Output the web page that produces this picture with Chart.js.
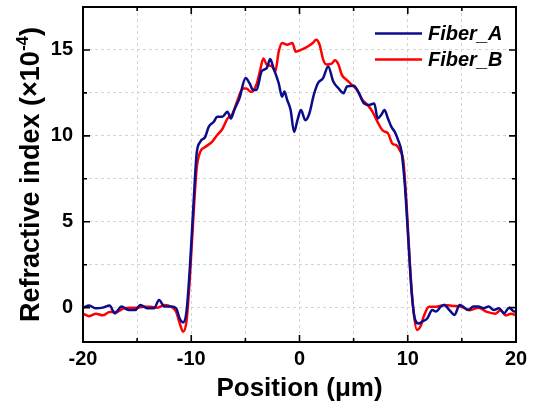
<!DOCTYPE html>
<html>
<head>
<meta charset="utf-8">
<script src="https://cdn.jsdelivr.net/npm/chart.js@4"></script>
<style>
  html, body { margin: 0; padding: 0; background: #fff; }
  #wrap { width: 536px; height: 409px; }
</style>
</head>
<body>
<div id="wrap"><canvas id="c" width="536" height="409"></canvas></div>
<script>
// ---- data ----
const posA = [-20,-19.43,-18.8,-18.17,-17.54,-17.07,-16.44,-15.8,-15.17,-14.7,-14.07,-13.44,-12.97,-12.49,-11.86,-11.39,-11.07,-10.76,-10.44,-10.13,-9.81,-9.5,-9.18,-8.71,-8.39,-7.92,-7.6,-7.13,-6.66,-6.34,-6.03,-5.55,-4.98,-4.61,-4.29,-3.97,-3.5,-3.03,-2.71,-2.4,-1.92,-1.61,-1.39,-1.14,-0.82,-0.5,-0.19,0.13,0.54,0.91,1.32,1.7,2.18,2.65,3.12,3.6,4.07,4.38,5.02,5.49,5.96,6.44,6.91,7.22,7.54,7.85,8.17,8.49,8.8,9.12,9.43,9.75,10.06,10.38,10.69,11.01,11.32,11.8,12.27,12.59,13.06,13.38,13.85,14.32,14.79,15.11,15.58,16.06,16.53,17.0,17.48,17.95,18.42,18.9,19.37,19.84,20];
const valA = [0,0.12,-0.04,0,0.12,-0.33,0.06,-0.14,-0.14,0.16,-0.04,-0.04,0.45,0.06,0.06,-0.04,-0.63,-0.86,-0.23,2.31,5.83,8.96,9.64,9.94,10.52,10.82,11.11,11.11,11.4,11.01,11.5,12.18,13.36,13.06,12.67,12.67,13.75,13.94,14.47,13.94,13.06,12.28,12.58,12.09,11.5,10.23,10.91,11.5,10.91,11.3,12.38,13.06,13.36,14.04,13.16,12.77,12.48,12.87,12.91,12.48,11.89,11.79,11.89,11.01,11.21,11.5,11.01,10.52,10.23,9.74,9.06,7.0,3.87,0.74,-0.72,-0.92,-0.82,-0.63,-0.14,-0.23,0.06,0.16,-0.14,-0.43,0.16,0.06,-0.14,0.06,0.06,-0.04,0.06,-0.14,-0.04,-0.33,0,-0.23,-0.23];

const posB = [-20,-19.43,-18.8,-18.17,-17.54,-16.91,-16.28,-15.65,-15.02,-14.38,-13.75,-13.12,-12.49,-11.86,-11.39,-11.07,-10.76,-10.44,-10.13,-9.81,-9.5,-9.18,-8.71,-8.08,-7.6,-7.13,-6.66,-6.18,-5.71,-5.24,-4.92,-4.45,-3.97,-3.66,-3.34,-3.03,-2.56,-2.24,-1.92,-1.61,-1.14,-0.66,-0.35,0.13,0.76,1.23,1.55,1.86,2.18,2.49,2.97,3.28,3.6,3.91,4.38,4.86,5.33,5.8,6.28,6.75,7.22,7.7,8.17,8.58,8.96,9.27,9.59,9.91,10.22,10.54,10.85,11.17,11.48,11.96,12.59,13.38,14.16,14.95,15.74,16.53,17.32,18.11,18.58,19.05,19.53,20];
const valB = [-0.35,-0.5,-0.35,-0.45,-0.25,-0.25,-0.05,0,0,0.05,0.05,0,0.15,0.05,-0.25,-0.9,-1.4,-0.8,1.7,5.2,8.1,9.05,9.35,9.65,10.05,10.4,11.0,11.3,12.1,12.75,12.75,12.55,13.0,13.75,14.5,14.15,14.05,13.75,14.9,15.4,15.3,15.4,14.9,15.0,15.2,15.4,15.6,15.3,14.45,14.15,14.2,14.4,14.15,13.55,13.25,12.95,12.65,12.1,11.8,11.4,10.8,10.3,10.15,9.55,9.45,9.15,8.55,5.8,2.3,-0.25,-1.3,-1.1,-0.5,0.05,0.05,0.15,0.1,0.05,-0.15,0,-0.25,-0.35,-0.15,-0.45,-0.35,-0.45];

const seriesNames = ['Fiber_A', 'Fiber_B'];
const xMajorTicks = [-20, -10, 0, 10, 20];
const xMinorTicks = [-15, -5, 5, 15];
const yMajorTicks = [0, 5, 10, 15];
const yMinorTicks = [2.5, 7.5, 12.5];
const xTitle = 'Position (\u03BCm)';
const yTitleMain = 'Refractive index (\u00D710';
const yTitleSup = '-4';
const yTitleEnd = ')';

const FONT = '"Liberation Sans", Arial, sans-serif';
const colA = '#0c0c8a';
const colB = '#ff0000';

const framePlugin = {
  id: 'frame',
  afterDraw(chart) {
    const ctx = chart.ctx;
    const {left, right, top, bottom} = chart.chartArea;
    const xs = chart.scales.x, ys = chart.scales.y;
    ctx.save();
    ctx.strokeStyle = '#000';
    ctx.lineWidth = 2;
    ctx.strokeRect(left, top, right - left, bottom - top);
    ctx.lineWidth = 1.6;
    ctx.beginPath();
    const tickX = (v, len) => {
      const p = xs.getPixelForValue(v);
      ctx.moveTo(p, bottom); ctx.lineTo(p, bottom - len);
      ctx.moveTo(p, top); ctx.lineTo(p, top + len);
    };
    const tickY = (v, len) => {
      const p = ys.getPixelForValue(v);
      ctx.moveTo(left, p); ctx.lineTo(left + len, p);
      ctx.moveTo(right, p); ctx.lineTo(right - len, p);
    };
    xMajorTicks.forEach(v => tickX(v, 7));
    xMinorTicks.forEach(v => tickX(v, 4));
    yMajorTicks.forEach(v => tickY(v, 7));
    yMinorTicks.forEach(v => tickY(v, 4));
    ctx.stroke();

    // axis titles
    ctx.fillStyle = '#000';
    ctx.font = 'bold 26px ' + FONT;
    ctx.textAlign = 'center';
    ctx.textBaseline = 'alphabetic';
    ctx.fillText(xTitle, xs.getPixelForValue(0), 396);

    ctx.save();
    const cy = (top + bottom) / 2;
    ctx.translate(39, cy);
    ctx.rotate(-Math.PI / 2);
    const mainFont = 'bold 27px ' + FONT;
    const supFont = 'bold 17px ' + FONT;
    ctx.font = mainFont;
    const w1 = ctx.measureText(yTitleMain).width;
    const w3 = ctx.measureText(yTitleEnd).width;
    ctx.font = supFont;
    const w2 = ctx.measureText(yTitleSup).width;
    const total = w1 + w2 + w3;
    let x0 = -total / 2;
    ctx.textAlign = 'left';
    ctx.font = mainFont;
    ctx.fillText(yTitleMain, x0, 0);
    ctx.font = supFont;
    ctx.fillText(yTitleSup, x0 + w1, -11);
    ctx.font = mainFont;
    ctx.fillText(yTitleEnd, x0 + w1 + w2, 0);
    ctx.restore();

    // legend
    const items = [[colA, 33.5], [colB, 59.5]];
    ctx.font = 'italic bold 20px ' + FONT;
    ctx.textAlign = 'left';
    ctx.textBaseline = 'middle';
    items.forEach((it, i) => {
      ctx.strokeStyle = it[0];
      ctx.lineWidth = 2.5;
      ctx.beginPath();
      ctx.moveTo(375, it[1]);
      ctx.lineTo(422, it[1]);
      ctx.stroke();
      ctx.fillStyle = '#000';
      ctx.fillText(seriesNames[i], 428, it[1] + 1);
    });
    ctx.restore();
  }
};

const zeroPad = s => { s.paddingTop = 0; s.paddingBottom = 0; s.paddingLeft = 0; s.paddingRight = 0; };

new Chart(document.getElementById('c'), {
  type: 'line',
  data: {
    datasets: [
      { label: seriesNames[0], data: posA.map((x, i) => ({x, y: valA[i]})),
        borderColor: colA, borderWidth: 2.5, pointRadius: 0, cubicInterpolationMode: 'monotone', fill: false },
      { label: seriesNames[1], data: posB.map((x, i) => ({x, y: valB[i]})),
        borderColor: colB, borderWidth: 2.5, pointRadius: 0, cubicInterpolationMode: 'monotone', fill: false }
    ]
  },
  options: {
    responsive: false,
    animation: false,
    devicePixelRatio: 1,
    layout: { padding: { left: 0, right: 20, top: 7, bottom: 0 } },
    plugins: { legend: { display: false }, tooltip: { enabled: false } },
    scales: {
      x: {
        type: 'linear', min: -20, max: 20,
        afterFit: s => { s.height = 67; zeroPad(s); },
        grid: { color: '#d4d4d4', lineWidth: 1, drawTicks: false },
        border: { display: false, dash: [3, 3] },
        ticks: {
          stepSize: 5, padding: 5, color: '#000', maxRotation: 0, autoSkip: false,
          font: { family: FONT, size: 20, weight: 'bold' },
          callback: v => xMajorTicks.includes(v) ? String(v) : ''
        }
      },
      y: {
        type: 'linear', min: -2, max: 17.5,
        afterFit: s => { s.width = 83; zeroPad(s); },
        grid: { color: '#d4d4d4', lineWidth: 1, drawTicks: false },
        border: { display: false, dash: [3, 3] },
        ticks: {
          stepSize: 2.5, padding: 10, color: '#000', autoSkip: false,
          font: { family: FONT, size: 20, weight: 'bold' },
          callback: v => yMajorTicks.includes(v) ? String(v) : ''
        }
      }
    }
  },
  plugins: [framePlugin]
});
</script>
</body>
</html>
